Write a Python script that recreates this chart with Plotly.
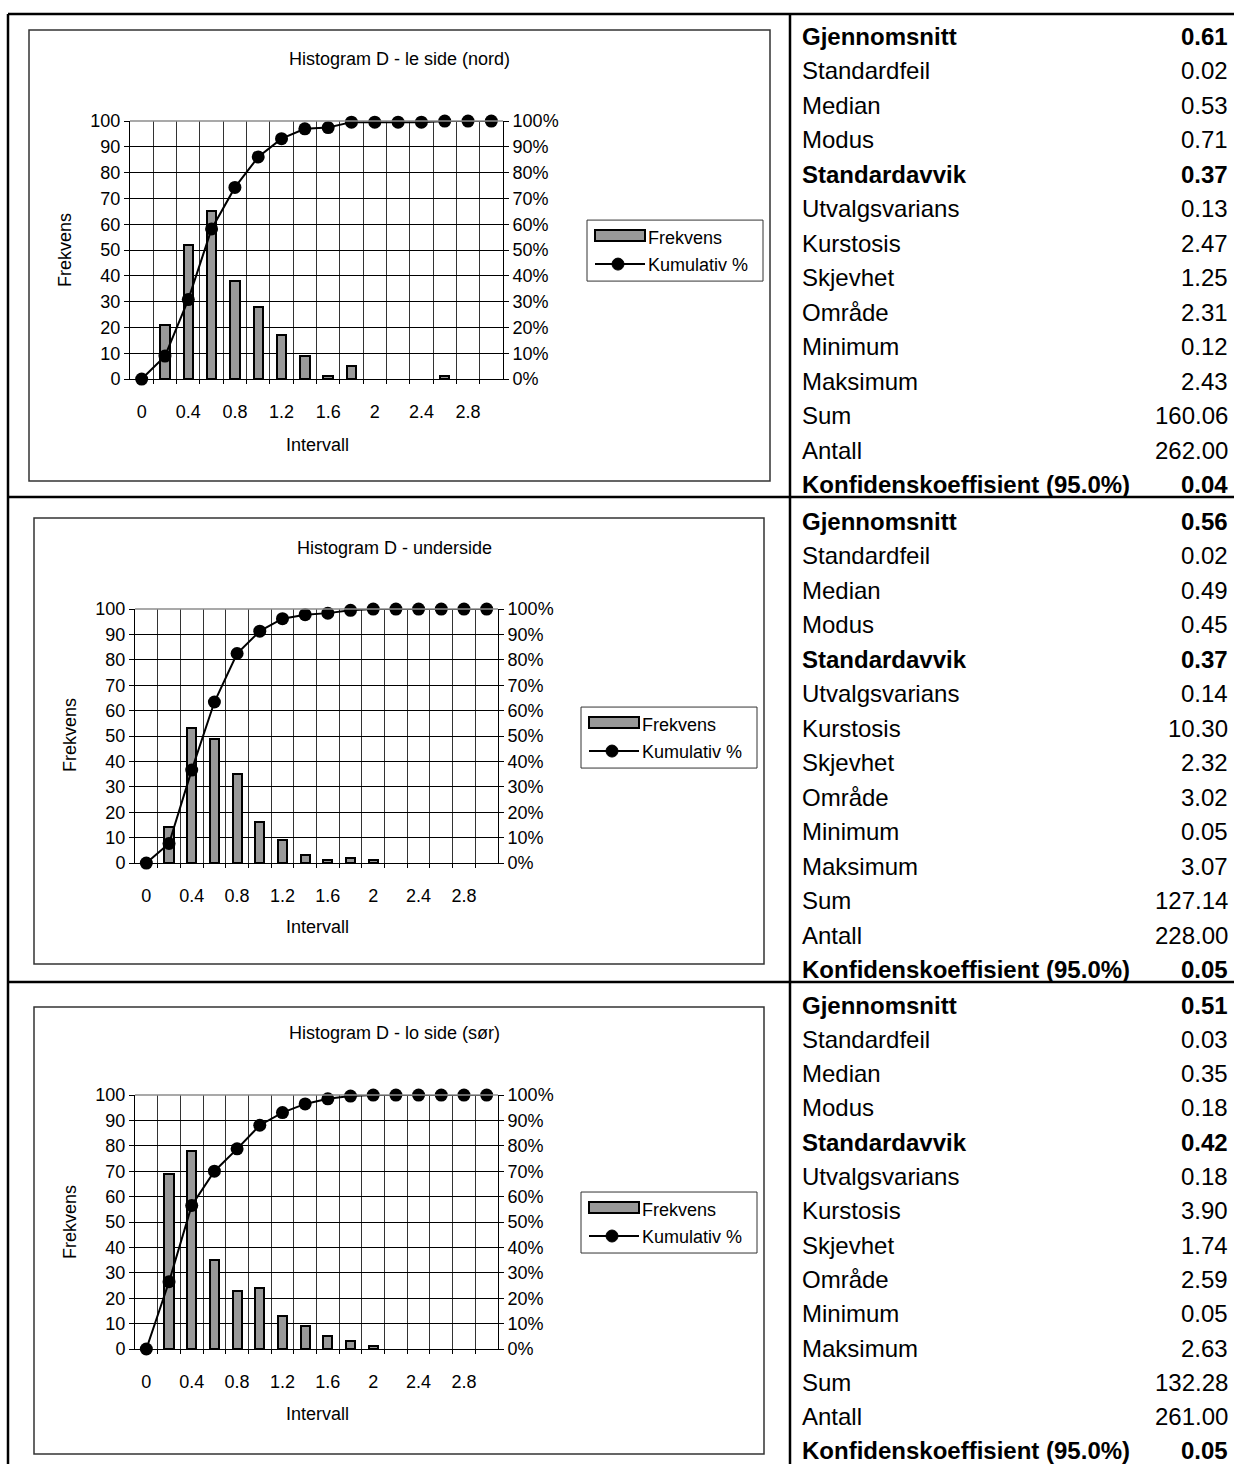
import plotly.graph_objects as go

W = 1234           # page width in px
H = 1476           # figure height in px
TOP = 8            # vertical offset of the figure on the page
Y_SCALE = 0.98652  # page px per layout px in the vertical direction

# Histogram classes (Intervall) and the labelled ticks on the category axis
intervall = [0.0, 0.2, 0.4, 0.6, 0.8, 1.0, 1.2, 1.4, 1.6, 1.8, 2.0, 2.2, 2.4, 2.6, 2.8, 3.0]
tick_vals = [0.0, 0.4, 0.8, 1.2, 1.6, 2.0, 2.4, 2.8]
tick_text = ["0", "0.4", "0.8", "1.2", "1.6", "2", "2.4", "2.8"]
pct_vals = [0, 10, 20, 30, 40, 50, 60, 70, 80, 90, 100]
pct_text = ["0%", "10%", "20%", "30%", "40%", "50%", "60%", "70%", "80%", "90%", "100%"]

# Frekvens per class and cumulative percentage, one pair per side
frekvens_nord = [0, 21, 52, 65, 38, 28, 17, 9, 1, 5, 0, 0, 0, 1, 0, 0]
kumulativ_nord = [0, 8.9, 30.8, 58.2, 74.3, 86.1, 93.2, 97.0, 97.5, 99.6, 99.6, 99.6, 99.6, 100, 100, 100]

frekvens_under = [0, 14, 53, 49, 35, 16, 9, 3, 1, 2, 1, 0, 0, 0, 0, 0]
kumulativ_under = [0, 7.7, 36.6, 63.4, 82.5, 91.3, 96.2, 97.8, 98.4, 99.5, 100, 100, 100, 100, 100, 100]

frekvens_sor = [0, 69, 78, 35, 23, 24, 13, 9, 5, 3, 1, 0, 0, 0, 0, 0]
kumulativ_sor = [0, 26.5, 56.5, 70.0, 78.8, 88.1, 93.1, 96.5, 98.5, 99.6, 100, 100, 100, 100, 100, 100]

titles = ["Histogram D - le side (nord)", "Histogram D - underside", "Histogram D - lo side (sør)"]

# Descriptive statistics shown beside each histogram
stat_labels = ["Gjennomsnitt", "Standardfeil", "Median", "Modus", "Standardavvik",
               "Utvalgsvarians", "Kurstosis", "Skjevhet", "Område", "Minimum",
               "Maksimum", "Sum", "Antall", "Konfidenskoeffisient (95.0%)"]
stat_bold = [True, False, False, False, True, False, False, False, False, False,
             False, False, False, True]
stats_nord = ["0.61", "0.02", "0.53", "0.71", "0.37", "0.13", "2.47", "1.25", "2.31",
              "0.12", "2.43", "160.06", "262.00", "0.04"]
stats_under = ["0.56", "0.02", "0.49", "0.45", "0.37", "0.14", "10.30", "2.32", "3.02",
               "0.05", "3.07", "127.14", "228.00", "0.05"]
stats_sor = ["0.51", "0.03", "0.35", "0.18", "0.42", "0.18", "3.90", "1.74", "2.59",
             "0.05", "2.63", "132.28", "261.00", "0.05"]

FONT = "Arial, Liberation Sans, sans-serif"
BAR_FILL = "#999999"
TICK_SIZE = 18
TEXT_SIZE = 18
STAT_SIZE = 24

# Page-pixel layout of each chart block
panels = [
    dict(freq=frekvens_nord, cum=kumulativ_nord, stats=stats_nord,
         plot=(130, 503, 119, 377), frame=(29, 770, 28, 479), title=(399, 57),
         ytitle=(65, 248), xtitle=(317, 443), legend=(587, 763, 218, 279),
         stat_y0=34, stat_step=34.5),
    dict(freq=frekvens_under, cum=kumulativ_under, stats=stats_under,
         plot=(135, 498, 607, 861), frame=(34, 764, 516, 962), title=(394, 546),
         ytitle=(70, 733), xtitle=(317, 925), legend=(581, 757, 705, 766),
         stat_y0=519, stat_step=34.5),
    dict(freq=frekvens_sor, cum=kumulativ_sor, stats=stats_sor,
         plot=(135, 498, 1093, 1347), frame=(34, 764, 1005, 1452), title=(394, 1031),
         ytitle=(70, 1220), xtitle=(317, 1412), legend=(581, 757, 1190, 1251),
         stat_y0=1003, stat_step=34.3),
]


def fx(p):
    return p / W


def fy(p):
    return 1 - (p / Y_SCALE - TOP) / H


fig = go.Figure()
shapes = []
annotations = []
layout = {}

for i, p in enumerate(panels):
    n = i + 1
    xa = "x" if n == 1 else f"x{n}"
    ya = "y" if n == 1 else f"y{2 * i + 1}"
    yb = f"y{2 * i + 2}"
    xkey = "xaxis" if n == 1 else f"xaxis{n}"
    ykey = "yaxis" if n == 1 else f"yaxis{2 * i + 1}"
    y2key = f"yaxis{2 * i + 2}"

    x0, x1, y0, y1 = p["plot"]

    # empty classes get no bar at all
    bar_heights = [v if v > 0 else None for v in p["freq"]]
    fig.add_trace(go.Bar(
        x=intervall, y=bar_heights, xaxis=xa, yaxis=ya, width=0.08,
        marker=dict(color=BAR_FILL, line=dict(color="black", width=2)),
        name="Frekvens", showlegend=False,
    ))
    fig.add_trace(go.Scatter(
        x=intervall, y=p["cum"], xaxis=xa, yaxis=yb, mode="lines+markers",
        line=dict(color="black", width=2), marker=dict(color="black", size=13),
        cliponaxis=False, name="Kumulativ %", showlegend=False,
    ))

    layout[xkey] = dict(
        domain=[fx(x0), fx(x1)], anchor=ya, range=[-0.1, 3.1],
        tickmode="array", tickvals=tick_vals, ticktext=tick_text, ticks="",
        showgrid=False, zeroline=False, showline=True, linecolor="black", linewidth=1,
        ticklabelstandoff=16, tickfont=dict(family=FONT, size=TICK_SIZE, color="black"),
        minor=dict(tickmode="array", tickvals=[v + 0.1 for v in intervall[:-1]],
                   showgrid=True, gridcolor="#333333", gridwidth=1,
                   ticks="outside", ticklen=4, tickcolor="black"),
    )
    layout[ykey] = dict(
        domain=[fy(y1), fy(y0)], anchor=xa, range=[0, 100], dtick=10, tick0=0,
        showgrid=True, gridcolor="black", gridwidth=1, zeroline=False,
        showline=True, linecolor="black", linewidth=1,
        ticks="outside", ticklen=5, tickcolor="black",
        tickfont=dict(family=FONT, size=TICK_SIZE, color="black"),
    )
    layout[y2key] = dict(
        overlaying=ya, anchor=xa, side="right", range=[0, 100],
        tickmode="array", tickvals=pct_vals, ticktext=pct_text,
        showgrid=False, zeroline=False, showline=True, linecolor="black", linewidth=1,
        ticks="outside", ticklen=5, tickcolor="black",
        tickfont=dict(family=FONT, size=TICK_SIZE, color="black"),
    )

    # grey plot-area border along the top edge
    shapes.append(dict(type="line", xref=f"{xa} domain", yref=f"{ya} domain",
                       x0=0, x1=1, y0=1, y1=1, line=dict(color="#8c8c8c", width=1.5)))

    # chart frame
    fx0, fx1, fy0, fy1 = p["frame"]
    shapes.append(dict(type="rect", xref="paper", yref="paper",
                       x0=fx(fx0), x1=fx(fx1), y0=fy(fy1), y1=fy(fy0),
                       line=dict(color="#333333", width=1.5)))

    # chart title and axis titles
    annotations.append(dict(text=titles[i], xref="paper", yref="paper",
                            x=fx(p["title"][0]), y=fy(p["title"][1]),
                            showarrow=False, xanchor="center", yanchor="middle",
                            font=dict(family=FONT, size=TEXT_SIZE, color="black")))
    annotations.append(dict(text="Frekvens", xref="paper", yref="paper",
                            x=fx(p["ytitle"][0]), y=fy(p["ytitle"][1]), textangle=-90,
                            showarrow=False, xanchor="center", yanchor="middle",
                            font=dict(family=FONT, size=TEXT_SIZE, color="black")))
    annotations.append(dict(text="Intervall", xref="paper", yref="paper",
                            x=fx(p["xtitle"][0]), y=fy(p["xtitle"][1]),
                            showarrow=False, xanchor="center", yanchor="middle",
                            font=dict(family=FONT, size=TEXT_SIZE, color="black")))

    # legend box
    lx0, lx1, ly0, ly1 = p["legend"]
    shapes.append(dict(type="rect", xref="paper", yref="paper",
                       x0=fx(lx0), x1=fx(lx1), y0=fy(ly1), y1=fy(ly0),
                       line=dict(color="#333333", width=1)))
    shapes.append(dict(type="rect", xref="paper", yref="paper",
                       x0=fx(lx0 + 8), x1=fx(lx0 + 58), y0=fy(ly0 + 21), y1=fy(ly0 + 10),
                       fillcolor=BAR_FILL, line=dict(color="black", width=2)))
    shapes.append(dict(type="line", xref="paper", yref="paper",
                       x0=fx(lx0 + 8), x1=fx(lx0 + 58), y0=fy(ly0 + 44), y1=fy(ly0 + 44),
                       line=dict(color="black", width=2)))
    shapes.append(dict(type="circle", xref="paper", yref="paper",
                       x0=fx(lx0 + 25), x1=fx(lx0 + 37), y0=fy(ly0 + 50), y1=fy(ly0 + 38),
                       fillcolor="black", line=dict(color="black", width=1)))
    annotations.append(dict(text="Frekvens", xref="paper", yref="paper",
                            x=fx(lx0 + 59), y=fy(ly0 + 18), showarrow=False,
                            xanchor="left", yanchor="middle",
                            font=dict(family=FONT, size=TEXT_SIZE, color="black")))
    annotations.append(dict(text="Kumulativ %", xref="paper", yref="paper",
                            x=fx(lx0 + 59), y=fy(ly0 + 45), showarrow=False,
                            xanchor="left", yanchor="middle",
                            font=dict(family=FONT, size=TEXT_SIZE, color="black")))

    # statistics table
    for k, (lab, val, bold) in enumerate(zip(stat_labels, p["stats"], stat_bold)):
        yy = fy(p["stat_y0"] + k * p["stat_step"])
        weight = "bold" if bold else "normal"
        annotations.append(dict(text=lab, xref="paper", yref="paper", x=fx(800), y=yy,
                                showarrow=False, xanchor="left", yanchor="middle",
                                font=dict(family=FONT, size=STAT_SIZE, color="black",
                                          weight=weight)))
        annotations.append(dict(text=val, xref="paper", yref="paper", x=fx(1230), y=yy,
                                showarrow=False, xanchor="right", yanchor="middle",
                                font=dict(family=FONT, size=STAT_SIZE, color="black",
                                          weight=weight)))

# table rules
for seg in [(8, 1234, 12, 12), (8, 1234, 495, 495), (8, 1234, 980, 980),
            (8, 8, 12, 1470), (790, 790, 12, 1470)]:
    shapes.append(dict(type="line", xref="paper", yref="paper",
                       x0=fx(seg[0]), x1=fx(seg[1]), y0=fy(seg[2]), y1=fy(seg[3]),
                       line=dict(color="black", width=2.5)))

fig.update_layout(
    width=W, height=H, margin=dict(l=0, r=0, t=0, b=0),
    paper_bgcolor="white", plot_bgcolor="white",
    showlegend=False, bargap=0, shapes=shapes, annotations=annotations,
    font=dict(family=FONT, color="black"),
    **layout,
)

fig.write_html("out.html")
